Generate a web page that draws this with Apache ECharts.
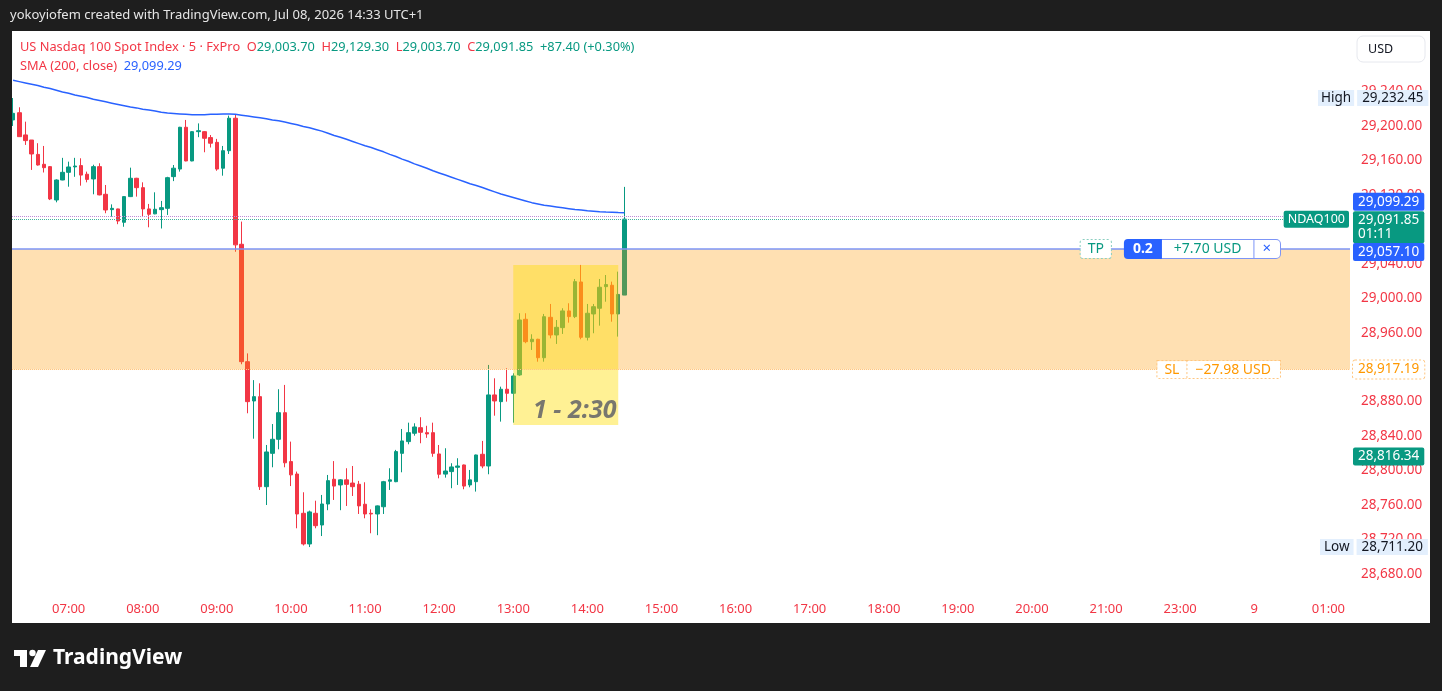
<!DOCTYPE html>
<html>
<head>
<meta charset="utf-8">
<script src="https://cdn.jsdelivr.net/npm/echarts/dist/echarts.min.js"></script>
<style>
html,body{margin:0;padding:0;background:#1e1e1e;overflow:hidden;}
#chart{width:1442px;height:691px;}
</style>
</head>
<body>
<div id="chart"></div>
<script>
// ---- Data (5-minute candles, 06:15 .. 14:30) ----
const opens = [29207,29215.4,29189.6,29183.7,29167,29155.5,29152.8,29114.1,29137.3,29146.2,
29152.5,29154,29144,29138.5,29152.8,29120.7,29102.9,29103.7,29088.2,29118,
29139.3,29128.4,29103.7,29098,29102.9,29104.4,29141.2,29150,29198.5,29159.4,
29193.4,29193.4,29186.5,29181,29151,29171.3,29209,29062.7,28926.4,28880.8,
28885.8,28781.3,28820,28836.3,28867.2,28810.4,28796,28750.4,28714.8,28750.4,
28736.8,28761.2,28789.9,28783.3,28789.2,28785.5,28784.1,28760.9,28750.4,28749.6,
28758,28787.6,28787.1,28820,28833.6,28843.3,28849.8,28844,28844,28819.3,
28795.9,28798.8,28803.8,28806.5,28783.3,28787.1,28818.9,28805.3,28887.8,28880,
28894.4,28889.7,28911,28975.6,28949.6,28952.4,28931,28977.9,28957.4,28965.9,
28985.3,28978.7,29018.9,28954.7,28981.8,28988.4,29013.5,29015.1,28981.8,29003.7];
const closes = [29214.7,29187.6,29183,29167.5,29154.7,29151.6,29115.3,29137.3,29146.2,29152.4,
29153.5,29143,29138,29152.8,29120,29102.5,29104.4,29089.7,29118,29139.3,
29128.4,29103.7,29097.5,29103.3,29105.2,29140,29151,29198.5,29159.4,29193.4,
29194.5,29185.7,29180,29150,29171.3,29209,29062,28926.4,28880,28885.8,
28781.3,28821.6,28836.3,28867.2,28809,28795,28749.6,28714.8,28752,28736,
28761.2,28788.3,28782,28789.2,28784,28781.3,28759,28749.6,28749.6,28759,
28787.1,28789.2,28822,28834.4,28844,28850.6,28844.4,28842.5,28820,28795.7,
28799.5,28804.2,28805.3,28782,28789.2,28818.1,28805.3,28887.8,28880.8,28894.4,
28889.7,28909.8,28974.8,28949.6,28952.4,28931,28978.6,28957.4,28966.3,28985.3,
28978.7,29019.3,28954.7,28982.6,28990.2,29012.8,29015.9,28981.8,29004.45,29091.85];
const lows = [29200,29187.6,29178,29149,29154,29146,29114,29111.4,29137,29129.5,
29141,29130.7,29134.6,29120.7,29119.5,29098.7,29094.8,29086,29083,29117.5,
29118,29094.8,29082.4,29097.5,29081,29096.7,29136,29147,29159,29159,
29187,29169.5,29175,29148,29142.3,29167.5,29054,28923.4,28866.5,28837,
28777.5,28760,28803.8,28824.7,28803.8,28782,28733,28713,28711.2,28733,
28724,28754,28765.9,28754,28758.9,28770.5,28749.6,28744.6,28727.2,28725,
28749.6,28777.5,28786.5,28798,28830.5,28840.5,28831.7,28838,28816,28791,
28791.8,28779.5,28783.3,28778.3,28780.6,28775.6,28802.7,28795.7,28863.7,28856.8,
28880,28855.6,28910,28947.8,28940,28926.4,28926.4,28953.5,28947,28958.6,
28971.7,28977,28952.4,28951,28959.4,28968.2,28996,28972.8,28955.5,29003.7];
const highs = [29232.45,29221.7,29205,29183.7,29180,29176.8,29153.5,29138,29163,29158.6,
29163,29162.5,29147,29155,29156.7,29131.5,29109,29104,29118.5,29151.6,
29139.8,29134.6,29109.5,29123,29113,29141,29154.7,29199,29207,29194,
29203,29194,29189.5,29185,29176.8,29212,29213.6,29089,28936,28905,
28901.3,28829.7,28854,28894.4,28899.4,28833.6,28798.8,28774.8,28753.5,28765,
28771.7,28794.9,28811,28790,28802.7,28805.3,28788,28786.4,28755,28759.5,
28788,28802.7,28824,28848.3,28855.6,28854.9,28861.9,28852,28855.6,28829.7,
28825.9,28808.5,28814.3,28807,28800.7,28818.5,28834.4,28922.6,28907.1,28897.4,
28918.7,28912.9,28982.6,28982.6,28958.2,28953,28981.8,28993.4,28974.8,28988.4,
28994.2,29022.4,29038.7,28993.4,28993.4,29022.4,29027,29019.3,29030.9,29129.3];
const sma200 = [29253,29251.5,29250,29248.5,29247,29245,29243.5,29241.5,29239.5,29238,
29236,29234.5,29233,29231,29229.5,29228,29226.5,29225,29223.5,29222,
29221,29219.5,29218.5,29217.5,29216,29215,29214.5,29214,29213.5,29213,
29213,29213,29213.5,29213.5,29214,29214,29213.5,29212.5,29211.5,29210.5,
29209.5,29208.5,29207,29206,29204.5,29203,29201.5,29199.5,29198,29196,
29194,29191.5,29189,29187,29184.5,29182,29179.5,29177,29175,29172.5,
29170,29167,29164.5,29161.5,29159,29156,29153.5,29151,29148,29145.5,
29143,29140.5,29138,29135.5,29133,29131,29128.5,29126,29123.5,29121,
29119,29117,29115,29113,29111,29109.5,29108,29107,29106,29105,
29104,29103,29102.5,29101.5,29101,29100.3,29100,29099.8,29099.5,29099.29];

// time axis tick labels
const timeTickLabels = ['07:00','08:00','09:00','10:00','11:00','12:00','13:00','14:00','15:00',
  '16:00','17:00','18:00','19:00','20:00','21:00','23:00','00:00','01:00'];

// position-tool levels
const TP_PRICE = 29057.10, SL_PRICE = 28917.19, LAST_PRICE = 29091.85, SMA_LAST = 29099.29;
const HIGH_PRICE = 29232.45, LOW_PRICE = 28711.20, OTHER_PRICE = 28816.34, DOT_PRICE = 29095.5;
const RR_TOP = 29038.6, RR_BOTTOM = 28852.9, RR_START = 81, RR_END = 98;

// ---- category slots: session 06:15-21:55, then 23:00 onward ----
const cats = [];
function hm(m){ m = ((m % 1440) + 1440) % 1440; return String(Math.floor(m/60)).padStart(2,'0') + ':' + String(m%60).padStart(2,'0'); }
for (let m = 6*60+15; m <= 21*60+55; m += 5) cats.push(hm(m));
for (let m = 23*60; cats.length < 217; m += 5) cats.push(hm(m));

const FONT = '"Noto Sans", "DejaVu Sans", sans-serif';
const RED = '#f23645', GREEN = '#089981', BLUE = '#2962ff', ORANGE = '#ff9800';
const fmt = v => v.toLocaleString('en-US', {minimumFractionDigits: 2, maximumFractionDigits: 2});

const candleData = opens.map((o, i) => [o, closes[i], lows[i], highs[i]]);

const boxLabel = (text, bg, color, extra) => Object.assign({
  show: true, position: 'end', distance: 3, formatter: text,
  backgroundColor: bg, color: color, fontSize: 13.5, fontFamily: FONT,
  padding: [1, 5], lineHeight: 16, borderRadius: 2
}, extra || {});
const hidden = {color: 'rgba(255,255,255,0)', width: 0};
const seg = (o) => Object.assign({fontSize: 14, fontFamily: FONT, height: 18, lineHeight: 18}, o);

const chart = echarts.init(document.getElementById('chart'));
chart.setOption({
  backgroundColor: '#ffffff',
  animation: false,
  grid: {left: 10, right: 92, top: 22.6, bottom: 82.6, containLabel: false},
  xAxis: {
    type: 'category', data: cats, boundaryGap: true, offset: -14,
    axisLine: {show: false, onZero: false}, axisTick: {show: false}, splitLine: {show: false},
    axisLabel: {
      color: RED, fontSize: 13, fontFamily: FONT, margin: 8, hideOverlap: false,
      interval: (i, v) => timeTickLabels.indexOf(v) >= 0,
      formatter: v => v === '00:00' ? '9' : v
    }
  },
  yAxis: {
    type: 'value', position: 'right', min: 28640, max: 29320, interval: 40,
    axisLine: {show: false}, axisTick: {show: false}, splitLine: {show: false},
    axisLabel: {
      color: RED, fontSize: 13.5, fontFamily: FONT, margin: 11,
      formatter: v => (v > 29250 || v < 28670) ? '' : fmt(v)
    }
  },
  series: [
    {
      type: 'candlestick', name: 'NDAQ100', data: candleData, barWidth: 4, z: 2,
      itemStyle: {color: GREEN, color0: RED, borderColor: GREEN, borderColor0: RED, borderWidth: 1}
    },
    {
      type: 'line', name: 'SMA (200, close)', data: sma200, z: 3,
      showSymbol: false, symbol: 'none', smooth: false,
      lineStyle: {color: BLUE, width: 1.5},
      markArea: {
        silent: true, z: 3,
        data: [
          [{yAxis: TP_PRICE, itemStyle: {color: 'rgba(255,152,0,0.30)'}}, {yAxis: SL_PRICE}],
          [{xAxis: cats[RR_START], yAxis: RR_TOP, itemStyle: {color: 'rgba(255,222,0,0.42)'},
            label: {show: true, position: 'insideBottom', distance: 2, offset: [9, 0], formatter: '1 - 2:30',
              color: 'rgba(105,105,105,0.9)', fontSize: 25, fontWeight: 'bold', fontStyle: 'italic', fontFamily: FONT}},
           {xAxis: cats[RR_END], yAxis: RR_BOTTOM}]
        ]
      },
      markLine: {
        silent: true, z: 5, symbol: ['none', 'none'],
        data: [
          {yAxis: DOT_PRICE, lineStyle: {color: '#c08ad8', type: 'dotted', width: 1}, label: {show: false}},
          {yAxis: LAST_PRICE, lineStyle: {color: '#3fb39c', type: 'dotted', width: 1},
            label: boxLabel(fmt(LAST_PRICE) + '\n01:11', GREEN, '#ffffff', {lineHeight: 14, padding: [2, 5], offset: [0, 8]})},
          {yAxis: LAST_PRICE, lineStyle: hidden,
            label: {show: true, position: 'insideEnd', distance: 1, formatter: 'NDAQ100', backgroundColor: GREEN,
              color: '#fff', fontSize: 12.5, fontFamily: FONT, padding: [2, 4], borderRadius: 2}},
          {yAxis: SMA_LAST, lineStyle: hidden, label: boxLabel(fmt(SMA_LAST), BLUE, '#ffffff', {offset: [0, -11]})},
          {yAxis: TP_PRICE, lineStyle: {color: '#7d95f6', type: 'solid', width: 1.5},
            label: boxLabel(fmt(TP_PRICE), BLUE, '#ffffff', {offset: [0, 3]})},
          {yAxis: TP_PRICE, lineStyle: hidden,
            label: {show: true, position: 'insideEnd', distance: 70, fontFamily: FONT, fontSize: 14,
              formatter: '{tp|TP}{gap|}{q|0.2}{v|+7.70 USD}{x|×}',
              rich: {
                tp: seg({color: GREEN, backgroundColor: '#fff', borderColor: '#8ccfc1', borderWidth: 1, borderType: 'dotted',
                  padding: [0, 7], borderRadius: 2}),
                gap: {width: 13},
                q: seg({color: '#fff', backgroundColor: BLUE, padding: [0, 9], height: 20, lineHeight: 20,
                  fontWeight: 'bold', borderRadius: [4, 0, 0, 4]}),
                v: seg({color: GREEN, backgroundColor: '#fff', borderColor: '#7d95f6', borderWidth: 1, padding: [0, 12]}),
                x: seg({color: BLUE, backgroundColor: '#fff', borderColor: '#7d95f6', borderWidth: 1, padding: [0, 9],
                  fontSize: 15, borderRadius: [0, 4, 4, 0]})
              }}},
          {yAxis: SL_PRICE, lineStyle: {color: '#ffc680', type: 'dotted', width: 1},
            label: boxLabel(fmt(SL_PRICE), '#ffffff', ORANGE, {borderColor: '#ffc680', borderWidth: 1, borderType: 'dotted'})},
          {yAxis: SL_PRICE, lineStyle: hidden,
            label: {show: true, position: 'insideEnd', distance: 70, fontFamily: FONT, fontSize: 14,
              formatter: '{s|SL}{u|\u221227.98 USD}',
              rich: {
                s: seg({color: ORANGE, backgroundColor: '#fff', borderColor: '#ffc680', borderWidth: 1, borderType: 'dotted',
                  padding: [0, 7], height: 17, lineHeight: 17}),
                u: seg({color: ORANGE, backgroundColor: '#fff', borderColor: '#ffc680', borderWidth: 1, borderType: 'dotted',
                  padding: [0, 9], height: 17, lineHeight: 17})
              }}},
          {yAxis: OTHER_PRICE, lineStyle: hidden, label: boxLabel(fmt(OTHER_PRICE), GREEN, '#ffffff')},
          {yAxis: HIGH_PRICE, lineStyle: hidden,
            label: {show: true, position: 'end', distance: 3, offset: [-35, 0], fontFamily: FONT, fontSize: 13.5,
              formatter: '{h|High}{g|}{v|' + fmt(HIGH_PRICE) + '}',
              rich: {
                h: {color: '#131722', backgroundColor: '#e3effd', padding: [1, 3], lineHeight: 16, fontSize: 13.5, fontFamily: FONT},
                g: {width: 3},
                v: {color: '#131722', backgroundColor: '#e3effd', padding: [1, 5], lineHeight: 16, fontSize: 13.5, fontFamily: FONT}
              }}},
          {yAxis: LOW_PRICE, lineStyle: hidden,
            label: {show: true, position: 'end', distance: 3, offset: [-33, 0], fontFamily: FONT, fontSize: 13.5,
              formatter: '{h|Low}{g|}{v|' + fmt(LOW_PRICE) + '}',
              rich: {
                h: {color: '#131722', backgroundColor: '#e3effd', padding: [1, 4], lineHeight: 16, fontSize: 13.5, fontFamily: FONT},
                g: {width: 3},
                v: {color: '#131722', backgroundColor: '#e3effd', padding: [1, 5], lineHeight: 16, fontSize: 13.5, fontFamily: FONT}
              }}}
        ]
      }
    }
  ],
  graphic: [
    {type: 'rect', z: 100, shape: {x: 0, y: 0, width: 1442, height: 31}, style: {fill: '#1e1e1e'}},
    {type: 'rect', z: 100, shape: {x: 0, y: 0, width: 12, height: 691}, style: {fill: '#1e1e1e'}},
    {type: 'rect', z: 100, shape: {x: 1430, y: 0, width: 12, height: 691}, style: {fill: '#1e1e1e'}},
    {type: 'rect', z: 100, shape: {x: 0, y: 623, width: 1442, height: 68}, style: {fill: '#1e1e1e'}},
    {type: 'text', z: 101, x: 10, y: 15, style: {text: 'yokoyiofem created with TradingView.com, Jul 08, 2026 14:33 UTC+1',
      fill: '#e6e6e6', font: '13px ' + FONT, verticalAlign: 'middle'}},
    {type: 'text', z: 101, x: 20, y: 47, style: {
      text: '{r|US Nasdaq 100 Spot Index \u00b7 5 \u00b7 FxPro}  {r|O}{g|29,003.70}  {r|H}{g|29,129.30}  {r|L}{g|29,003.70}  {r|C}{g|29,091.85}  {g|+87.40 (+0.30%)}',
      verticalAlign: 'middle', font: '12.8px ' + FONT,
      rich: {r: {fill: RED, fontSize: 12.8, fontFamily: FONT}, g: {fill: GREEN, fontSize: 12.8, fontFamily: FONT}}}},
    {type: 'text', z: 101, x: 20, y: 66, style: {
      text: '{r|SMA (200, close)}  {b|29,099.29}', verticalAlign: 'middle', font: '12.8px ' + FONT,
      rich: {r: {fill: RED, fontSize: 12.8, fontFamily: FONT}, b: {fill: BLUE, fontSize: 12.8, fontFamily: FONT}}}},
    {type: 'rect', z: 101, shape: {x: 1357, y: 36, width: 68, height: 26, r: 6}, style: {fill: '#ffffff', stroke: '#e6e8ee', lineWidth: 1}},
    {type: 'text', z: 102, x: 1368, y: 49, style: {text: 'USD', fill: '#131722', font: '12.5px ' + FONT, verticalAlign: 'middle'}},
    // TradingView logo
    {type: 'rect', z: 101, shape: {x: 14, y: 650, width: 13, height: 6}, style: {fill: '#ffffff'}},
    {type: 'rect', z: 101, shape: {x: 20, y: 650, width: 7, height: 17}, style: {fill: '#ffffff'}},
    {type: 'circle', z: 101, shape: {cx: 32.5, cy: 653, r: 3.2}, style: {fill: '#ffffff'}},
    {type: 'polygon', z: 101, shape: {points: [[38, 650], [46, 650], [38, 667], [30, 667]]}, style: {fill: '#ffffff'}},
    {type: 'text', z: 101, x: 53, y: 658, style: {text: 'TradingView', fill: '#ffffff', font: 'bold 21px ' + FONT, verticalAlign: 'middle'}}
  ]
});
</script>
</body>
</html>
